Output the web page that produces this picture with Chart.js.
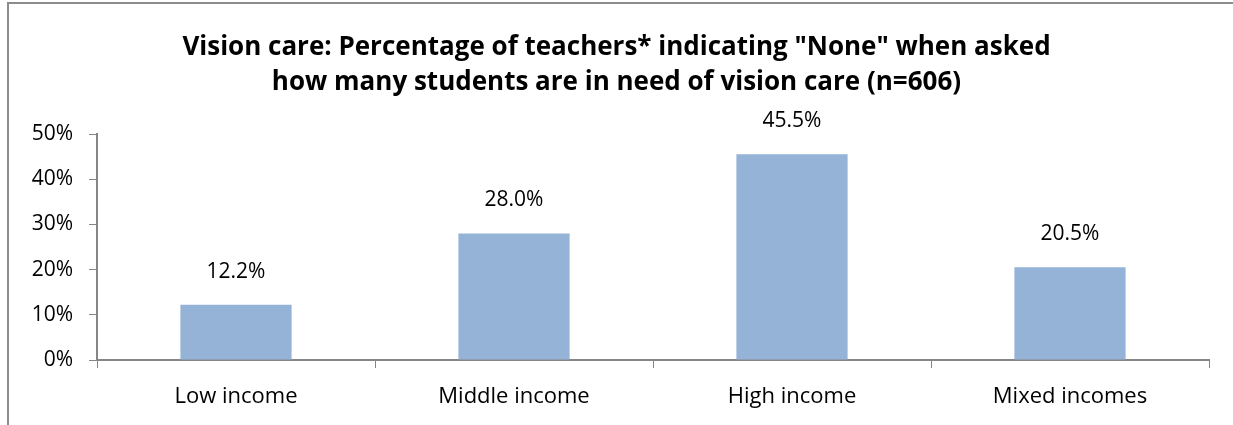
<!DOCTYPE html>
<html>
<head>
<meta charset="utf-8">
<script src="https://cdn.jsdelivr.net/npm/chart.js@4/dist/chart.umd.min.js"></script>
<style>
  html, body { margin: 0; padding: 0; background: #fff; }
  #wrap { width: 1233px; height: 425px; }
</style>
</head>
<body>
<div id="wrap"><canvas id="visionChart" width="1233" height="425"></canvas></div>
<script>
const categories = ["Low income", "Middle income", "High income", "Mixed incomes"];
const noneShare = [12.2, 28.0, 45.5, 20.5];
const yTicks = [0, 10, 20, 30, 40, 50];
const titleLines = [
    "Vision care: Percentage of teachers* indicating \"None\" when asked",
    "how many students are in need of vision care (n=606)"
];

const FONT = "'Open Sans', sans-serif";
const AXIS_GREY = "#868686";

// frame around the chart, open on the right and bottom
const framePlugin = {
    id: "frame",
    beforeDraw(chart) {
        const c = chart.ctx;
        c.save();
        c.fillStyle = "#fff";
        c.fillRect(0, 0, chart.width, chart.height);
        c.strokeStyle = "#8c8c8c";
        c.lineWidth = 2;
        c.beginPath();
        c.moveTo(8, chart.height + 2);
        c.lineTo(8, 3);
        c.lineTo(chart.width + 2, 3);
        c.stroke();
        c.restore();
    }
};

// value labels above each bar
const valueLabels = {
    id: "valueLabels",
    afterDatasetsDraw(chart) {
        const c = chart.ctx;
        const meta = chart.getDatasetMeta(0);
        c.save();
        c.font = "21px " + FONT;
        c.fillStyle = "#000";
        c.textAlign = "center";
        c.textBaseline = "middle";
        meta.data.forEach((bar, i) => {
            c.fillText(noneShare[i].toFixed(1) + "%", bar.x, bar.y - 33);
        });
        c.restore();
    }
};

new Chart(document.getElementById("visionChart"), {
    type: "bar",
    data: {
        labels: categories,
        datasets: [{
            data: noneShare,
            backgroundColor: "#95b3d7",
            borderWidth: 0,
            categoryPercentage: 0.4,
            barPercentage: 1
        }]
    },
    options: {
        responsive: false,
        animation: false,
        // symmetric side padding keeps the title centred on the canvas
        layout: { padding: { left: 24, right: 24, top: 0, bottom: 0 } },
        plugins: {
            legend: { display: false },
            tooltip: { enabled: false },
            title: {
                display: true,
                text: titleLines,
                color: "#000",
                font: { family: FONT, size: 26, weight: "bold", lineHeight: "35px" },
                padding: { top: 30, bottom: 34 }
            }
        },
        scales: {
            x: {
                grid: {
                    offset: true,
                    drawOnChartArea: false,
                    drawTicks: true,
                    tickLength: 8,
                    color: AXIS_GREY
                },
                border: { color: AXIS_GREY, width: 2 },
                ticks: {
                    color: "#000",
                    font: { family: FONT, size: 22 },
                    padding: 16
                },
                afterFit(scale) { scale.height = 65; }
            },
            y: {
                min: 0,
                max: 50,
                afterBuildTicks(scale) {
                    scale.ticks = yTicks.map(v => ({ value: v }));
                },
                grid: {
                    drawOnChartArea: false,
                    drawTicks: true,
                    tickLength: 8,
                    color: AXIS_GREY
                },
                border: { color: AXIS_GREY, width: 2 },
                ticks: {
                    color: "#000",
                    font: { family: FONT, size: 21 },
                    padding: 16,
                    callback: v => v + "%"
                },
                afterFit(scale) { scale.width = 73; }
            }
        }
    },
    plugins: [framePlugin, valueLabels]
});
</script>
</body>
</html>
